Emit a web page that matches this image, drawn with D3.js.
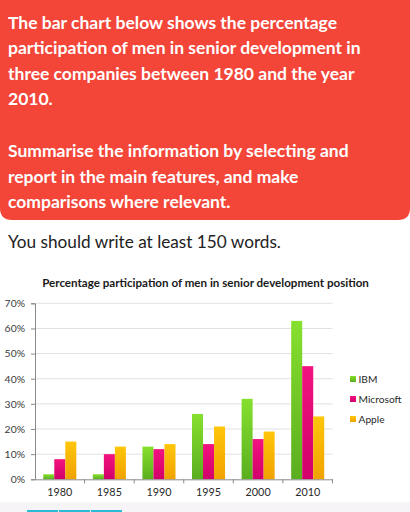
<!DOCTYPE html>
<html><head><meta charset="utf-8">
<script src="https://cdn.jsdelivr.net/npm/d3@7"></script>
<style>
html,body{margin:0;padding:0;background:#fff;}
svg{display:block;}
</style></head>
<body>
<svg id="c" width="410" height="512"></svg>
<script>
const years = ["1980","1985","1990","1995","2000","2010"];
const seriesNames = ["IBM","Microsoft","Apple"];
const ibm = [2,2,13,26,32,63];
const microsoft = [8,10,12,14,16,45];
const apple = [15,13,14,21,19,25];
const yTicks = [0,10,20,30,40,50,60,70];
const headerLines1 = ["The bar chart below shows the percentage","participation of men in senior development in","three companies between 1980 and the year","2010."];
const headerLines2 = ["Summarise the information by selecting and","report in the main features, and make","comparisons where relevant."];
const noteText = "You should write at least 150 words.";
const chartTitle = "Percentage participation of men in senior development position";

(function(){
const values = [ibm, microsoft, apple];
const colorsTop = ["#86e02e","#f2137f","#ffc60a"];
const colorsBot = ["#5aae1f","#d1006a","#f0a200"];

const svg = d3.select("#c");
const defs = svg.append("defs");
seriesNames.forEach((s,i)=>{
  const g = defs.append("linearGradient").attr("id","g"+i).attr("x1",0).attr("y1",0).attr("x2",0).attr("y2",1);
  g.append("stop").attr("offset","0%").attr("stop-color",colorsTop[i]);
  g.append("stop").attr("offset","100%").attr("stop-color",colorsBot[i]);
});

const r = 12, bw = 410, bh = 220;
svg.append("path")
  .attr("d",`M0,0 H${bw} V${bh-r} Q${bw},${bh} ${bw-r},${bh} H${r} Q0,${bh} 0,${bh-r} Z`)
  .attr("fill","#f44539");

const hfont = "Lato, 'Open Sans', sans-serif";
headerLines1.forEach((t,i)=>{
  svg.append("text").attr("x",8).attr("y",28.5+i*25.5).text(t)
    .attr("font-family",hfont).attr("font-weight",700).attr("font-size",17.5).attr("fill","#fff");
});
headerLines2.forEach((t,i)=>{
  svg.append("text").attr("x",8).attr("y",157+i*25.7).text(t)
    .attr("font-family",hfont).attr("font-weight",700).attr("font-size",17.5).attr("fill","#fff");
});
svg.append("text").attr("x",8).attr("y",248).text(noteText)
  .attr("font-family",hfont).attr("font-weight",400).attr("font-size",17.2).attr("fill","#222");

const pl = 35, pr = 332.5, pt = 303.3, pb = 479.3;
const x0 = d3.scaleBand().domain(years).range([pl,pr]).padding(0);
const bwid = x0.bandwidth();
const x1 = d3.scaleBand().domain(seriesNames).range([bwid/6, bwid*5/6]).padding(0);
const y = d3.scaleLinear().domain([0,70]).range([pb,pt]);

const cfont = "Lato, 'Open Sans', sans-serif";
svg.append("text").attr("x",205.5).attr("y",287).attr("text-anchor","middle")
  .attr("font-family",cfont).attr("font-weight",700).attr("font-size",11.6).attr("fill","#1a1a1a")
  .text(chartTitle);

svg.append("g").selectAll("line").data(yTicks.filter(d=>d>0)).join("line")
  .attr("x1",pl).attr("x2",pr).attr("y1",d=>y(d)).attr("y2",d=>y(d))
  .attr("stroke","#d9d9d9").attr("stroke-width",0.8);

const yAxis = d3.axisLeft(y).tickValues(yTicks).tickFormat(d=>d+"%").tickSize(4).tickPadding(6);
const gy = svg.append("g").attr("transform",`translate(${pl},0)`).call(yAxis);
gy.select(".domain").attr("stroke","#8a8a8a");
gy.selectAll(".tick line").attr("stroke","#8a8a8a");
gy.selectAll("text").attr("font-family",cfont).attr("font-size",10.4).attr("fill","#3a3a3a");

years.forEach((yr,j)=>{
  seriesNames.forEach((s,i)=>{
    svg.append("rect")
      .attr("x",x0(yr)+x1(s)).attr("width",x1.bandwidth())
      .attr("y",y(values[i][j])).attr("height",pb-y(values[i][j]))
      .attr("fill",`url(#g${i})`);
  });
});

const xAxis = d3.axisBottom(x0).tickSize(0).tickPadding(9);
const gx = svg.append("g").attr("transform",`translate(0,${pb})`).call(xAxis);
gx.select(".domain").attr("stroke","#8a8a8a");
gx.selectAll("text").attr("font-family",cfont).attr("font-size",10.8).attr("fill","#2a2a2a");
svg.append("g").selectAll("line").data(years.slice(1).concat(["end"])).join("line")
  .attr("x1",d=>d==="end"?pr:x0(d)).attr("x2",d=>d==="end"?pr:x0(d))
  .attr("y1",pb).attr("y2",pb+4).attr("stroke","#8a8a8a");

const lg = svg.append("g");
seriesNames.forEach((s,i)=>{
  lg.append("rect").attr("x",350).attr("y",376+i*20).attr("width",6).attr("height",6).attr("fill",`url(#g${i})`);
  lg.append("text").attr("x",358.5).attr("y",382.8+i*20).text(s)
    .attr("font-family",cfont).attr("font-size",10.2).attr("fill","#2a2a2a");
});

svg.append("rect").attr("x",0).attr("y",502).attr("width",410).attr("height",10).attr("fill","#f7f4f7");
[[27,31],[59,31],[91,31]].forEach(([xx,w])=>{
  svg.append("rect").attr("x",xx).attr("y",510).attr("width",w).attr("height",2).attr("fill","#2bbbd9");
});
})();
</script>
</body></html>
